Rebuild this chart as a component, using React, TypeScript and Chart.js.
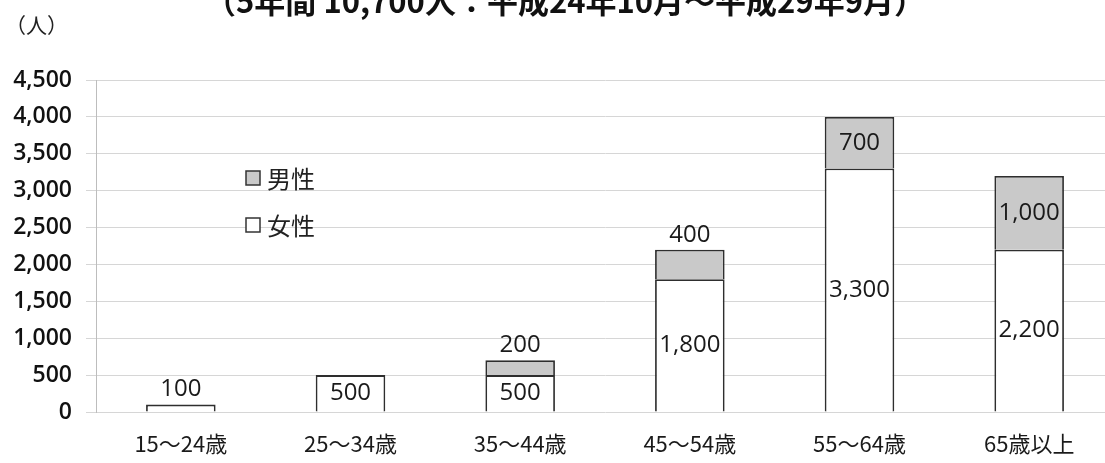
import { useEffect, useRef } from 'react';
import { Chart, registerables } from 'chart.js';

Chart.register(...registerables);

const titleText = '（5年間 10,700人：平成24年10月～平成29年9月）';
const unitText = '（人）';
const categories = ['15～24歳', '25～34歳', '35～44歳', '45～54歳', '55～64歳', '65歳以上'];
const femaleValues = [100, 500, 500, 1800, 3300, 2200];
const maleValues = [0, 0, 200, 400, 700, 1000];
const seriesNames = ['女性', '男性'];
const yMin = 0;
const yMax = 4500;
const yStep = 500;

const CJK = '"Noto Sans CJK JP", "Noto Sans", sans-serif';
const NUM = '"Open Sans", "Noto Sans", sans-serif';

const fmt = (v: number) => v.toLocaleString('en-US');

const decorPlugin = {
  id: 'decor',
  afterDraw(chart: any) {
    const ctx = chart.ctx as CanvasRenderingContext2D;
    ctx.save();
    // title (cut off at top)
    ctx.fillStyle = '#111';
    ctx.font = `bold 31px ${CJK}`;
    ctx.textAlign = 'center';
    ctx.textBaseline = 'alphabetic';
    ctx.fillText(titleText, 565, 13);
    // unit
    ctx.font = `21px ${CJK}`;
    ctx.textAlign = 'left';
    ctx.textBaseline = 'middle';
    ctx.fillStyle = '#222';
    ctx.fillText(unitText, 5, 25);
    // legend
    const legendItems = [
      { name: seriesNames[1], fill: chart.data.datasets[1].backgroundColor, y: 178 },
      { name: seriesNames[0], fill: chart.data.datasets[0].backgroundColor, y: 225 },
    ];
    ctx.font = `24px ${CJK}`;
    legendItems.forEach((it) => {
      ctx.fillStyle = it.fill;
      ctx.fillRect(246, it.y - 7, 14, 14);
      ctx.strokeStyle = '#333';
      ctx.lineWidth = 1.5;
      ctx.strokeRect(246, it.y - 7, 14, 14);
      ctx.fillStyle = '#222';
      ctx.textAlign = 'left';
      ctx.textBaseline = 'middle';
      ctx.fillText(it.name, 267, it.y + 1);
    });
    // data labels
    ctx.font = `24px ${NUM}`;
    ctx.fillStyle = '#1a1a1a';
    ctx.textAlign = 'center';
    ctx.textBaseline = 'middle';
    chart.data.datasets.forEach((ds: any, di: number) => {
      const meta = chart.getDatasetMeta(di);
      meta.data.forEach((el: any, i: number) => {
        const v = ds.data[i];
        if (!v) return;
        const h = el.base - el.y;
        const y = h < 33 ? el.y - 15 : (el.y + el.base) / 2;
        ctx.fillText(fmt(v), el.x, y);
      });
    });
    ctx.restore();
  },
};

export default function App() {
  const ref = useRef<HTMLCanvasElement | null>(null);
  useEffect(() => {
    if (!ref.current) return;
    const chart = new Chart(ref.current, {
      type: 'bar',
      data: {
        labels: categories,
        datasets: [
          {
            label: seriesNames[0],
            data: femaleValues,
            backgroundColor: '#ffffff',
            borderColor: '#2e2e2e',
            borderWidth: 1.8,
            borderSkipped: 'start',
            categoryPercentage: 0.82,
            barPercentage: 0.5,
          },
          {
            label: seriesNames[1],
            data: maleValues,
            backgroundColor: '#c9c9c9',
            borderColor: '#2e2e2e',
            borderWidth: 1.8,
            borderSkipped: 'start',
            categoryPercentage: 0.82,
            barPercentage: 0.5,
          },
        ],
      },
      options: {
        animation: false,
        responsive: true,
        maintainAspectRatio: false,
        layout: { padding: { top: 80, right: 6, left: 0, bottom: 0 } },
        plugins: { legend: { display: false }, tooltip: { enabled: false }, title: { display: false } },
        scales: {
          x: {
            stacked: true,
            grid: { display: false, drawTicks: false },
            border: { display: false },
            ticks: { color: '#1a1a1a', font: { family: CJK, size: 22 }, padding: 18 },
            afterFit: (s: any) => { s.height = 51; },
          },
          y: {
            stacked: true,
            min: yMin,
            max: yMax,
            ticks: {
              stepSize: yStep,
              color: '#111',
              font: { family: NUM, size: 23, weight: 600 },
              padding: 14,
              callback: (v: any) => fmt(Number(v)),
            },
            grid: { color: '#d6d6d6', tickLength: 10, lineWidth: 1 },
            border: { display: true, color: '#bdbdbd' },
            afterFit: (s: any) => { s.width = 96; },
          },
        },
      },
      plugins: [decorPlugin],
    });
    return () => chart.destroy();
  }, []);
  return (
    <div style={{ position: 'fixed', left: 0, top: 0, width: 1105, height: 463, overflow: 'hidden', background: '#fff' }}>
      <div style={{ position: 'relative', width: 1120, height: 463 }}>
        <canvas ref={ref} />
      </div>
    </div>
  );
}
